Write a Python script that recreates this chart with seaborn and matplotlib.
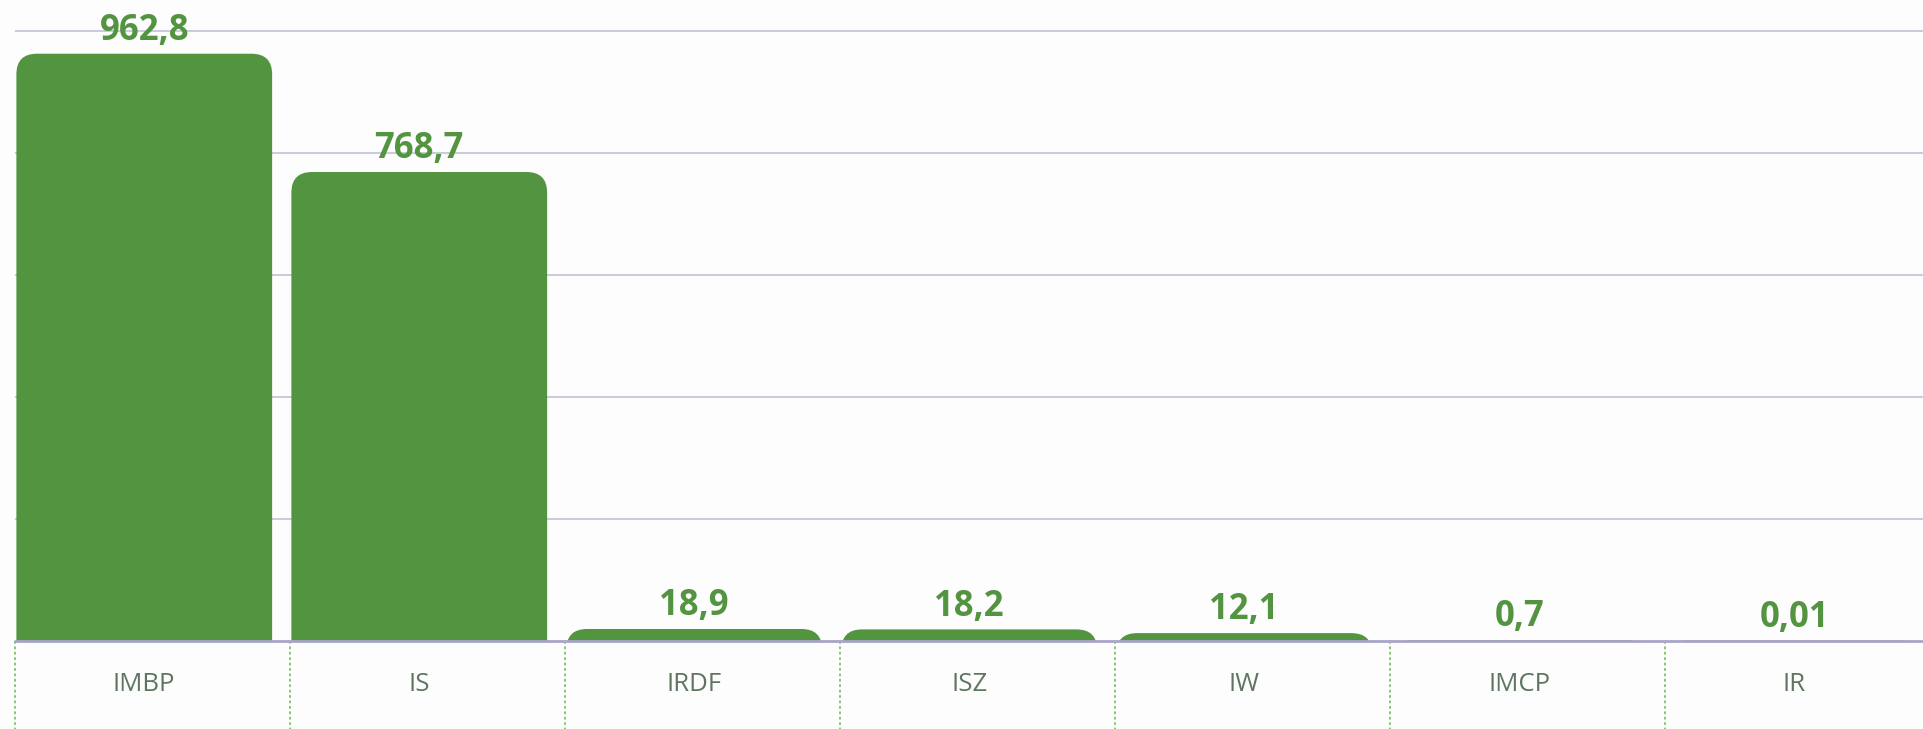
import seaborn as sns
import matplotlib.pyplot as plt
import pandas as pd
from matplotlib.patches import FancyBboxPatch

# Data
categories = ["IMBP", "IS", "IRDF", "ISZ", "IW", "IMCP", "IR"]
values = [962.8, 768.7, 18.9, 18.2, 12.1, 0.7, 0.01]
value_labels = ["962,8", "768,7", "18,9", "18,2", "12,1", "0,7", "0,01"]

df = pd.DataFrame({"cat": categories, "val": values})

GREEN = "#539440"
BG = "#fdfdfd"

sns.set_style("white")
plt.rcParams["font.family"] = ["Open Sans", "DejaVu Sans"]

W, H = 1924, 729
fig = plt.figure(figsize=(W / 100, H / 100), dpi=100, facecolor=BG)
# axes runs a bit past the right edge, like the original crop
ax = fig.add_axes([15 / W, (H - 640.5) / H, 1925 / W, 640.5 / H])
ax.set_facecolor(BG)

sns.barplot(data=df, x="cat", y="val", color=GREEN, width=0.93,
            saturation=1, ax=ax, zorder=3)

ymax = 1000 + 31 / 0.6085
ax.set_ylim(0, ymax)
ax.set_xlim(-0.47, 6.53)

# replace plain bars with top-rounded ones
px_per_x = 1925 / 7
px_per_y = 640.5 / ymax
aspect = (1 / px_per_y) / (1 / px_per_x)
for p in list(ax.patches):
    x, w, h = p.get_x(), p.get_width(), p.get_height()
    p.remove()
    below = 60
    box = FancyBboxPatch((x, -below), w, h + below,
                         boxstyle="round,pad=0,rounding_size=0.075",
                         mutation_aspect=aspect, facecolor=GREEN,
                         edgecolor="none", zorder=3)
    ax.add_patch(box)

# value labels
for i, (v, lab) in enumerate(zip(values, value_labels)):
    ax.annotate(lab, (i, v), xytext=(0, 10), textcoords="offset points",
                ha="center", va="baseline", color=GREEN, fontsize=25,
                fontweight="bold", zorder=5)

# gridlines
for g in [200, 400, 600, 800, 1000]:
    ax.axhline(g, color="#c6c6da", lw=1.3, zorder=1)
ax.axhline(0, color="#a8a4c8", lw=2, zorder=4, clip_on=False)

# category boundaries below the baseline
for i in range(len(categories)):
    ax.plot([i - 0.47, i - 0.47], [0, -0.2], transform=ax.get_xaxis_transform(),
            color="#7cc46a", lw=1.3, ls=(0, (1.5, 1.5)), clip_on=False)

ax.set_xlabel("")
ax.set_ylabel("")
ax.set_yticks([])
ax.tick_params(axis="x", length=0, pad=23, labelsize=18.5, labelcolor="#5e7560")
sns.despine(ax=ax, left=True, bottom=True, top=True, right=True)

fig.savefig("out.png", dpi=100, facecolor=BG)
plt.close()
